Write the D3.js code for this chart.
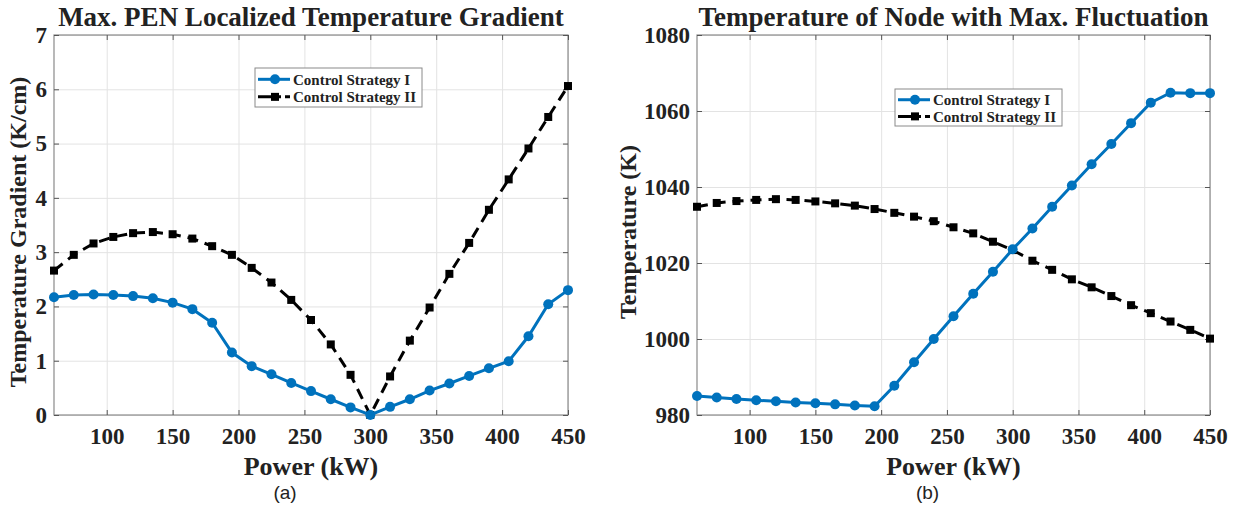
<!DOCTYPE html>
<html>
<head>
  <style>
    body {
      margin: 0;
      background: #fff;
    }
    text {
      font-family: "Liberation Serif", "Times New Roman", serif;
      font-weight: bold;
      fill: #222;
    }
    .axis .domain {
      display: none;
    }
    .axis line {
      stroke: #555;
    }
    .grid line {
      stroke: #e3e3e3;
    }
    .grid .domain {
      display: none;
    }
  </style>
</head>
<body>
  <script src="https://d3js.org/d3.v7.min.js"></script>
  <script>
    var power = [60, 75, 90, 105, 120, 135, 150, 165, 180, 195, 210, 225, 240, 255, 270, 285, 300,
                 315, 330, 345, 360, 375, 390, 405, 420, 435, 450];

    // (a) max PEN localized temperature gradient, K/cm
    var gradI  = [2.17, 2.21, 2.22, 2.21, 2.19, 2.15, 2.07, 1.95, 1.70, 1.15, 0.90, 0.75, 0.59, 0.44,
                  0.29, 0.14, 0.00, 0.15, 0.29, 0.45, 0.58, 0.72, 0.86, 0.99, 1.45, 2.04, 2.30];
    var gradII = [2.66, 2.95, 3.16, 3.28, 3.35, 3.37, 3.33, 3.25, 3.11, 2.95, 2.71, 2.44, 2.12, 1.75,
                  1.30, 0.74, 0.00, 0.71, 1.37, 1.98, 2.60, 3.17, 3.78, 4.34, 4.91, 5.49, 6.06];

    // (b) temperature of node with max. fluctuation, K
    var tempI  = [985.0, 984.6, 984.2, 983.9, 983.6, 983.3, 983.1, 982.8, 982.5, 982.3, 987.7, 993.9,
                  1000.0, 1006.0, 1011.9, 1017.7, 1023.6, 1029.1, 1034.8, 1040.4, 1046.0, 1051.3,
                  1056.8, 1062.2, 1064.8, 1064.7, 1064.7];
    var tempII = [1034.8, 1035.8, 1036.3, 1036.6, 1036.8, 1036.6, 1036.2, 1035.7, 1035.1, 1034.2,
                  1033.2, 1032.2, 1031.0, 1029.4, 1027.8, 1025.6, 1023.4, 1020.6, 1018.2, 1015.7,
                  1013.6, 1011.3, 1008.9, 1006.8, 1004.6, 1002.4, 1000.1];

    var xTicks = [100, 150, 200, 250, 300, 350, 400, 450];
    var gradTicks = [0, 1, 2, 3, 4, 5, 6, 7];
    var tempTicks = [980, 1000, 1020, 1040, 1060, 1080];
    var seriesNames = ["Control Strategy I", "Control Strategy II"];

    var W = 1237, H = 508;
    var svg = d3.select("body").append("svg")
        .attr("width", W)
        .attr("height", H);

    var blue = "#0072BD";

    drawPanel({
      left: 54, right: 568, top: 35, bottom: 415,
      yDomain: [0, 7], yTicks: gradTicks,
      s1: gradI, s2: gradII,
      title: "Max. PEN Localized Temperature Gradient",
      ylabel: "Temperature Gradient (K/cm)", ylabelX: 26,
      caption: "(a)",
      legend: [255, 68, 167, 39]
    });

    drawPanel({
      left: 697, right: 1210, top: 35, bottom: 415,
      yDomain: [980, 1080], yTicks: tempTicks,
      s1: tempI, s2: tempII,
      title: "Temperature of Node with Max. Fluctuation",
      ylabel: "Temperature (K)", ylabelX: 636,
      caption: "(b)",
      legend: [895, 89, 167, 37]
    });

    function drawPanel(c) {
      var x = d3.scaleLinear().domain([60, 450]).range([c.left, c.right]);
      var y = d3.scaleLinear().domain(c.yDomain).range([c.bottom, c.top]);
      var g = svg.append("g");

      // grid
      g.append("g")
          .attr("class", "grid")
          .attr("transform", "translate(0," + c.bottom + ")")
          .call(d3.axisBottom(x).tickValues(xTicks).tickSize(-(c.bottom - c.top)).tickFormat(""));
      g.append("g")
          .attr("class", "grid")
          .attr("transform", "translate(" + c.left + ",0)")
          .call(d3.axisLeft(y).tickValues(c.yTicks).tickSize(-(c.right - c.left)).tickFormat(""));

      // box
      g.append("rect")
          .attr("x", c.left).attr("y", c.top)
          .attr("width", c.right - c.left).attr("height", c.bottom - c.top)
          .attr("fill", "none").attr("stroke", "#8a8a8a").attr("stroke-width", 1.2);

      // inward ticks on all four sides
      g.append("g").attr("class", "axis x")
          .attr("transform", "translate(0," + c.bottom + ")")
          .call(d3.axisBottom(x).tickValues(xTicks).tickSizeInner(-5).tickPadding(12).tickFormat(d3.format("d")))
          .selectAll("text").attr("font-size", 23).attr("dy", "0.72em");
      g.append("g").attr("class", "axis")
          .attr("transform", "translate(0," + c.top + ")")
          .call(d3.axisTop(x).tickValues(xTicks).tickSizeInner(-5).tickFormat(""));
      g.append("g").attr("class", "axis y")
          .attr("transform", "translate(" + c.left + ",0)")
          .call(d3.axisLeft(y).tickValues(c.yTicks).tickSizeInner(-5).tickPadding(7).tickFormat(d3.format("d")))
          .selectAll("text").attr("font-size", 23);
      g.append("g").attr("class", "axis")
          .attr("transform", "translate(" + c.right + ",0)")
          .call(d3.axisRight(y).tickValues(c.yTicks).tickSizeInner(-5).tickFormat(""));
      g.selectAll(".axis text").attr("font-family", "Liberation Serif").attr("font-weight", "bold").attr("fill", "#222");

      var line = d3.line()
          .x(function(d, i){ return x(power[i]); })
          .y(function(d){ return y(d); });

      // strategy II (dashed, squares)
      g.append("path")
          .datum(c.s2)
          .attr("d", line)
          .attr("fill", "none")
          .attr("stroke", "#000")
          .attr("stroke-width", 3)
          .attr("stroke-dasharray", "11,7");
      g.selectAll(".sq")
          .data(c.s2)
        .enter().append("rect")
          .attr("x", function(d, i){ return x(power[i]) - 4; })
          .attr("y", function(d){ return y(d) - 4; })
          .attr("width", 8).attr("height", 8)
          .attr("fill", "#000");

      // strategy I (solid, circles)
      g.append("path")
          .datum(c.s1)
          .attr("d", line)
          .attr("fill", "none")
          .attr("stroke", blue)
          .attr("stroke-width", 3);
      g.selectAll(".dot")
          .data(c.s1)
        .enter().append("circle")
          .attr("cx", function(d, i){ return x(power[i]); })
          .attr("cy", function(d){ return y(d); })
          .attr("r", 5)
          .attr("fill", blue);

      // labels
      g.append("text")
          .attr("x", (c.left + c.right) / 2).attr("y", 26)
          .attr("text-anchor", "middle")
          .attr("font-size", 27)
          .text(c.title);
      g.append("text")
          .attr("transform", "translate(" + c.ylabelX + "," + ((c.top + c.bottom) / 2 + 7) + ") rotate(-90)")
          .attr("text-anchor", "middle")
          .attr("font-size", 24)
          .text(c.ylabel);
      g.append("text")
          .attr("x", (c.left + c.right) / 2).attr("y", 475)
          .attr("text-anchor", "middle")
          .attr("font-size", 26)
          .text("Power (kW)");
      g.append("text")
          .attr("x", (c.left + c.right) / 2 - 26).attr("y", 499)
          .attr("text-anchor", "middle")
          .attr("font-size", 19)
          .style("font-family", "'Liberation Sans', Arial, sans-serif")
          .style("font-weight", "normal")
          .text(c.caption);

      // legend
      var lg = g.append("g").attr("transform", "translate(" + c.legend[0] + "," + c.legend[1] + ")");
      lg.append("rect")
          .attr("width", c.legend[2]).attr("height", c.legend[3])
          .attr("fill", "#fff").attr("stroke", "#8a8a8a");
      var rowY = [c.legend[3] * 0.29, c.legend[3] * 0.74];
      lg.append("line")
          .attr("x1", 3).attr("x2", 35).attr("y1", rowY[0]).attr("y2", rowY[0])
          .attr("stroke", blue).attr("stroke-width", 3);
      lg.append("circle").attr("cx", 20).attr("cy", rowY[0]).attr("r", 5).attr("fill", blue);
      lg.append("line")
          .attr("x1", 3).attr("x2", 35).attr("y1", rowY[1]).attr("y2", rowY[1])
          .attr("stroke", "#000").attr("stroke-width", 3).attr("stroke-dasharray", "23,4,6,40");
      lg.append("rect").attr("x", 16).attr("y", rowY[1] - 4).attr("width", 8).attr("height", 8).attr("fill", "#000");
      lg.selectAll(".lt")
          .data(seriesNames)
        .enter().append("text")
          .attr("x", 38)
          .attr("y", function(d, i){ return rowY[i]; })
          .attr("dy", "0.35em")
          .attr("font-size", 15)
          .text(function(d){ return d; });
    }
  </script>
</body>
</html>
